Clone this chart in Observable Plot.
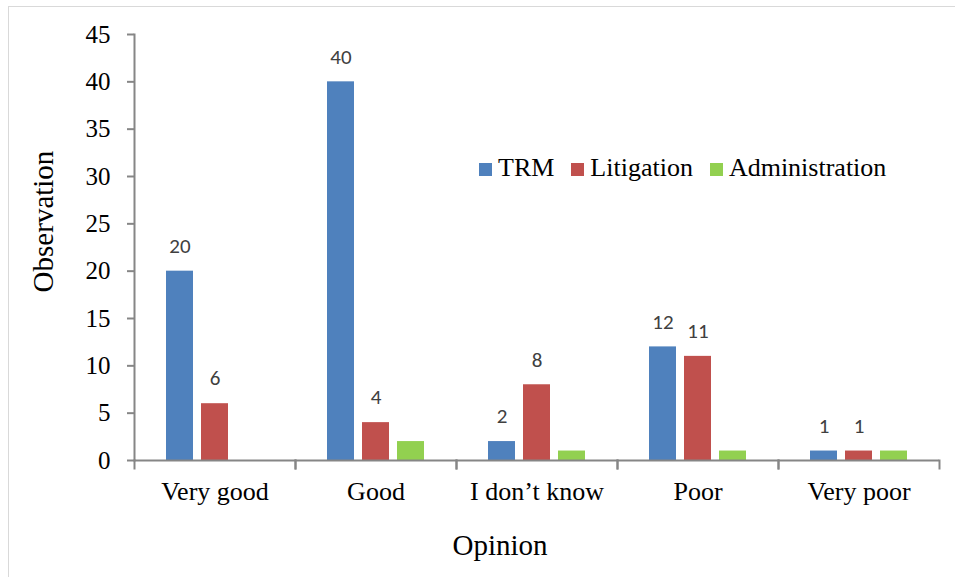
<!DOCTYPE html>
<html>
<head>
<meta charset="utf-8">
<script src="https://cdn.jsdelivr.net/npm/d3@7"></script>
<script src="https://cdn.jsdelivr.net/npm/@observablehq/plot@0.6"></script>
<style>
  body { margin: 0; background: #fff; }
  #wrap { position: relative; width: 955px; height: 577px; overflow: hidden; background: #fff; }
  #border { position: absolute; left: 8px; top: 6px; width: 980px; height: 620px; border: 1px solid #d9d9d9; box-sizing: border-box; }
  #chart { position: absolute; left: 0; top: 0; }
  #legend, #xtitle, #ytitle { font-family: "Liberation Serif", "DejaVu Serif", serif; color: #000; }
  #legend { position: absolute; left: 479px; top: 155px; font-size: 26px; line-height: 26px; white-space: nowrap; }
  #legend .item { display: inline-block; margin-right: 17px; font-family: "Liberation Serif", "DejaVu Serif", serif; }
  #legend .sw { display: inline-block; width: 13px; height: 13px; margin-right: 6px; vertical-align: baseline; }
  #xtitle { position: absolute; left: 400px; top: 531px; width: 200px; text-align: center; font-size: 29px; line-height: 29px; }
  #ytitle { position: absolute; left: -57px; top: 207px; width: 200px; height: 29px; text-align: center; font-size: 29px; line-height: 29px; transform: rotate(-90deg); transform-origin: 50% 50%; }
</style>
</head>
<body>
<div id="wrap">
  <div id="border"></div>
  <div id="chart"></div>
  <div id="legend"></div>
  <div id="xtitle">Opinion</div>
  <div id="ytitle">Observation</div>
</div>
<script>
const categories = ["Very good", "Good", "I don\u2019t know", "Poor", "Very poor"];
const series = ["TRM", "Litigation", "Administration"];
const trm = [20, 40, 2, 12, 1];
const litigation = [6, 4, 8, 11, 1];
const administration = [0, 2, 1, 1, 1];
const colors = ["#4F81BD", "#C0504D", "#92D050"];
const yTicks = [0, 5, 10, 15, 20, 25, 30, 35, 40, 45];

const values = [trm, litigation, administration];
const data = [];
categories.forEach((c, i) => {
  series.forEach((s, j) => data.push({category: c, series: s, value: values[j][i]}));
});
const labelled = data.filter(d => d.series !== "Administration");

const serif = "'Liberation Serif', 'DejaVu Serif', serif";
const axisGray = "#868686";
const chart = Plot.plot({
  width: 955,
  height: 577,
  marginLeft: 133,
  marginRight: 16,
  marginTop: 34,
  marginBottom: 117,
  style: {background: "transparent", fontFamily: serif, color: "#000"},
  fx: {domain: categories, padding: 0},
  x: {domain: series, paddingInner: 0.222, paddingOuter: 0.85, axis: null},
  y: {domain: [0, 45]},
  color: {domain: series, range: colors},
  marks: [
    Plot.barY(data.filter(d => d.value > 0), {fx: "category", x: "series", y: "value", fill: "series"}),
    Plot.text(labelled, {fx: "category", x: "series", y: "value", text: d => String(d.value), dy: -25,
      fill: "#404040", fontSize: 21, fontFamily: "Carlito, Lato, 'Open Sans', sans-serif"}),
    Plot.ruleY([0], {stroke: axisGray, strokeWidth: 2}),
    Plot.frame({anchor: "left", insetTop: 426, insetBottom: -8, stroke: axisGray, strokeWidth: 2}),
    Plot.frame({anchor: "right", insetTop: 426, insetBottom: -8, stroke: axisGray, strokeWidth: 2}),
    Plot.frame({anchor: "left", fx: () => categories[0], stroke: axisGray, strokeWidth: 2}),
    Plot.axisY({ticks: yTicks, tickSize: 7, tickPadding: 17, fontSize: 25, fontFamily: serif, fill: "#000",
      stroke: axisGray, strokeWidth: 2, label: null, tickFormat: d => String(d)}),
    Plot.axisFx({anchor: "bottom", tickSize: 0, tickPadding: 21, fontSize: 26, fontFamily: serif, fill: "#000", label: null})
  ]
});
document.getElementById("chart").appendChild(chart);

const legend = document.getElementById("legend");
series.forEach((s, j) => {
  const item = document.createElement("span");
  item.className = "item";
  const sw = document.createElement("span");
  sw.className = "sw";
  sw.style.background = colors[j];
  item.appendChild(sw);
  item.appendChild(document.createTextNode(s));
  legend.appendChild(item);
});
</script>
</body>
</html>
